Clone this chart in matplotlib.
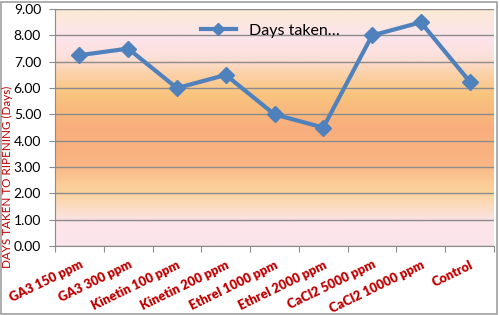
import numpy as np
import matplotlib.pyplot as plt
from matplotlib.colors import LinearSegmentedColormap
from matplotlib.patches import Rectangle

treatments = ["GA3 150 ppm", "GA3 300 ppm", "Kinetin 100 ppm", "Kinetin 200 ppm",
              "Ethrel 1000 ppm", "Ethrel 2000 ppm", "CaCl2 5000 ppm",
              "CaCl2 10000 ppm", "Control"]
days_taken = [7.25, 7.5, 6.0, 6.5, 5.0, 4.5, 8.0, 8.5, 6.25]
yticks = np.arange(0, 9.01, 1.0)

fig = plt.figure(figsize=(5, 3.15), dpi=100)
ax = fig.add_axes([0.11, 0.219, 0.878, 0.752])

# background gradient (bottom -> top)
grad = LinearSegmentedColormap.from_list("bg", [
    (0.00, "#FCE4EC"), (0.10, "#FCE4EA"), (0.22, "#FBD49E"),
    (0.36, "#F9B482"), (0.50, "#F8AE7C"), (0.64, "#F9C47E"),
    (0.72, "#FBD0A4"), (0.80, "#FCE0DA"), (0.88, "#FCE4EC"),
    (1.00, "#FCE9D4")])
ax.imshow(np.linspace(0, 1, 256).reshape(-1, 1), cmap=grad, origin="lower",
          aspect="auto", extent=(-0.5, len(treatments) - 0.5, 0, 9), zorder=0)

x = np.arange(len(treatments))
ax.plot(x, days_taken, color="#4F81BD", lw=3, marker="D", ms=8,
        label="Days taken\u2026", zorder=3)

ax.set_xlim(-0.5, len(treatments) - 0.5)
ax.set_ylim(0, 9)
ax.set_yticks(yticks)
ax.set_yticklabels([f"{v:.2f}" for v in yticks], fontsize=10, family="Lato")
ax.yaxis.grid(True, color="#8C8C8C", lw=1)
for l in ax.get_ygridlines():
    l.set_zorder(1)
ax.tick_params(axis="y", length=4, color="#8C8C8C", pad=6)

ax.set_xticks(np.arange(-0.5, len(treatments), 1.0))
ax.set_xticklabels([])
ax.set_xticks(x, minor=True)
ax.set_xticklabels(treatments, minor=True, rotation=26, ha="right",
                   rotation_mode="anchor", color="#C00000", fontsize=9.3,
                   fontweight="heavy", family="Lato")
ax.tick_params(axis="x", which="major", length=4, color="#8C8C8C", direction="out")
ax.tick_params(axis="x", which="minor", length=0, pad=9)

for s in ["top", "right"]:
    ax.spines[s].set_visible(False)
ax.spines["left"].set_color("#8C8C8C")
ax.spines["bottom"].set_color("#8C8C8C")

fig.text(0.014, 0.44, "DAYS TAKEN TO RIPENING (Days)", rotation=90, ha="center",
         va="center", color="#C00000", fontsize=8.4, family="Lato")

ax.legend(loc="upper center", bbox_to_anchor=(0.49, 1.0), frameon=False,
          handlelength=2.2, prop={"family": "Lato", "size": 11.5},
          markerscale=0.8)

fig.patches.append(Rectangle((0.002, 0.004), 0.992, 0.99, transform=fig.transFigure,
                             fill=False, edgecolor="#A0A0A0", lw=1.2))

fig.savefig("out.png", dpi=100)
